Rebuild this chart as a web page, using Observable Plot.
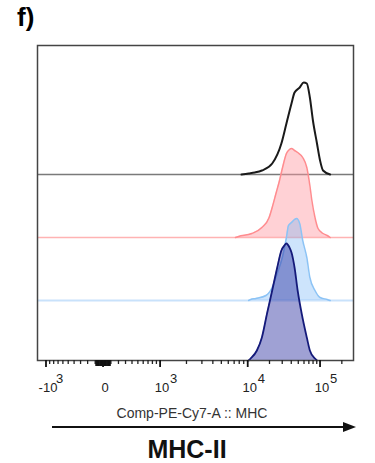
<!DOCTYPE html>
<html>
<head>
<meta charset="utf-8">
<script src="https://cdn.jsdelivr.net/npm/d3@7"></script>
<script src="https://cdn.jsdelivr.net/npm/@observablehq/plot@0.6"></script>
<style>
  html, body { margin: 0; padding: 0; background: #fff; }
  #wrap { position: relative; width: 375px; height: 463px; font-family: "Liberation Sans", Arial, sans-serif; }
  #chart { position: absolute; left: 0; top: 0; }
  .abs { position: absolute; line-height: 1; white-space: nowrap; }
  #panel { left: 17px; top: 4px; font-size: 26px; font-weight: bold; color: #000; }
  #xlabel { left: 0; width: 384px; text-align: center; top: 406px; font-size: 14px; color: #333; }
  #title { left: 0; width: 374px; text-align: center; top: 437px; font-size: 25px; font-weight: bold; color: #111; }
  #arrow { position: absolute; left: 0; top: 415px; }
</style>
</head>
<body>
<div id="wrap">
  <div id="chart"></div>
  <div class="abs" id="panel">f)</div>
  <div class="abs" id="xlabel">Comp-PE-Cy7-A :: MHC</div>
  <svg id="arrow" width="375" height="24"><line x1="52" y1="12" x2="346" y2="12" stroke="#111" stroke-width="2.2"/><polygon points="343,7 356,12 343,17" fill="#111"/></svg>
  <div class="abs" id="title">MHC-II</div>
</div>
<script>
// ---- data (fluorescence intensity, event count in relative units) ----
const blackX = [8500, 10300, 12550, 15700, 21800, 29200, 34300, 40300, 44400, 52300, 59500, 65600, 72300, 79700, 90700, 100000, 110000, 138000];
const blackH = [0, 1, 2, 4, 11, 31, 51, 71, 82, 87, 92, 91, 77, 54, 31, 14, 4, 0];

const pinkX = [7250, 7860, 11400, 15700, 19770, 21800, 24800, 27300, 30100, 34300, 37800, 40300, 44400, 49000, 57600, 65600, 72300, 77100, 85100, 93800, 110000, 125500, 138000];
const pinkH = [0, 1, 4, 10, 20, 30, 45, 56, 69, 84, 88, 89, 87, 85, 80, 70, 52, 37, 20, 9, 4, 2, 0];

const blueX = [10300, 11000, 12960, 17900, 21800, 25600, 30100, 34300, 36600, 40300, 44400, 47400, 52300, 57600, 65600, 72300, 85100, 100000, 125500, 138000];
const blueH = [0, 1, 2, 5, 13, 27, 43, 63, 75, 78, 81, 82, 77, 60, 43, 23, 10, 3, 1, 0];

const navyX = [10300, 11000, 13390, 15700, 18500, 21800, 25600, 29200, 32100, 34300, 37800, 40300, 44400, 49000, 55700, 65600, 72300, 85100, 90700];
const navyH = [0, 2, 10, 23, 47, 70, 93, 110, 115, 117, 113, 108, 93, 70, 47, 23, 10, 2, 0];

const majorTicks = [-1000, 0, 1000, 10000, 100000];
const tickBase = ["-10", "0", "10", "10", "10"];
const tickExp = ["3", "", "3", "4", "5"];
const minorTicks = [
  -900, -800, -700, -600, -500, -400, -300, -200, -100,
  100, 200, 300, 400, 500, 600, 700, 800, 900,
  2000, 3000, 4000, 5000, 6000, 7000, 8000, 9000,
  20000, 30000, 40000, 50000, 60000, 70000, 80000, 90000,
  200000
];
const zeroTicks = [-90, -80, -70, -60, -50, -40, -30, -20, -10, 10, 20, 30, 40, 50, 60, 70, 80, 90];
const xDomain = [-1250, 290000];

// ---- FlowJo-like biexponential display transform ----
function T(v) {
  if (v >= 1e4) return 142 + 71 * Math.log10(v / 1e4);
  if (v >= 1e3) return 56 + 86 * Math.log10(v / 1e3);
  if (v <= -1e4) return -142 - 71 * Math.log10(-v / 1e4);
  if (v <= -1e3) return -56 - 86 * Math.log10(-v / 1e3);
  return 56 * Math.asinh(v / 500) / Math.asinh(2);
}

const series = [
  {xs: blackX, hs: blackH, off: 186, fill: "none", fo: 0, stroke: "#1a1a1a", sw: 2, base: "#7a7a7a", bw: 1.6},
  {xs: pinkX, hs: pinkH, off: 123, fill: "#ff9aa2", fo: 0.45, stroke: "#ff8c8f", sw: 1.5, base: "#ffb3b3", bw: 1.6},
  {xs: blueX, hs: blueH, off: 60, fill: "#6fb3f7", fo: 0.35, stroke: "#8cc3f5", sw: 1.5, base: "#c9e2fb", bw: 1.8},
  {xs: navyX, hs: navyH, off: 0, fill: "#2a2fa0", fo: 0.45, stroke: "#141a7a", sw: 1.8, base: null, bw: 0}
];

const marks = [];
for (const s of series) {
  const rows = s.xs.map((x, i) => ({x, h: s.hs[i]}));
  if (s.base) marks.push(Plot.ruleY([s.off], {stroke: s.base, strokeWidth: s.bw}));
  if (s.fill !== "none") {
    marks.push(Plot.areaY(rows, {x: d => T(d.x), y1: s.off, y2: d => s.off + d.h, fill: s.fill, fillOpacity: s.fo, curve: "monotone-x"}));
  }
  marks.push(Plot.lineY(rows, {x: d => T(d.x), y: d => s.off + d.h, stroke: s.stroke, strokeWidth: s.sw, curve: "monotone-x"}));
}
marks.push(Plot.frame({stroke: "#444", strokeWidth: 1.5}));

if (typeof Plot.axisX === "function") {
  marks.push(Plot.axisX(minorTicks.map(T), {anchor: "bottom", tickSize: 4, tickFormat: () => "", stroke: "#222", strokeWidth: 1.3, label: null}));
  marks.push(Plot.axisX(zeroTicks.map(T), {anchor: "bottom", tickSize: 6, tickFormat: () => "", stroke: "#111", strokeWidth: 1.4, label: null}));
  marks.push(Plot.axisX(majorTicks.map(T), {anchor: "bottom", tickSize: 7, tickFormat: () => "", stroke: "#111", strokeWidth: 1.8, label: null}));
} else {
  marks.push(Plot.ruleX(minorTicks.map(T), {y1: 0, y2: -4, stroke: "#222", strokeWidth: 1.3}));
  marks.push(Plot.ruleX(zeroTicks.map(T), {y1: 0, y2: -6, stroke: "#111", strokeWidth: 1.4}));
  marks.push(Plot.ruleX(majorTicks.map(T), {y1: 0, y2: -7, stroke: "#111", strokeWidth: 1.8}));
}

const labels = majorTicks.map((v, i) => ({v, base: tickBase[i], exp: tickExp[i]}));
marks.push(Plot.text(labels, {x: d => T(d.v), text: d => d.base, frameAnchor: "bottom", dy: 31, dx: 2, fontSize: 13, fill: "#222"}));
marks.push(Plot.text(labels.filter(d => d.exp), {x: d => T(d.v), text: d => d.exp, frameAnchor: "bottom", dy: 22, dx: 10, textAnchor: "start", fontSize: 13, fill: "#222"}));

const chart = Plot.plot({
  width: 375,
  height: 400,
  marginLeft: 37,
  marginRight: 22,
  marginTop: 45,
  marginBottom: 40,
  x: {type: "linear", domain: xDomain.map(T), axis: null},
  y: {domain: [0, 315], axis: null},
  style: {fontFamily: "'Liberation Sans', Arial, sans-serif", background: "transparent", overflow: "visible"},
  marks
});
document.getElementById("chart").appendChild(chart);
</script>
</body>
</html>
